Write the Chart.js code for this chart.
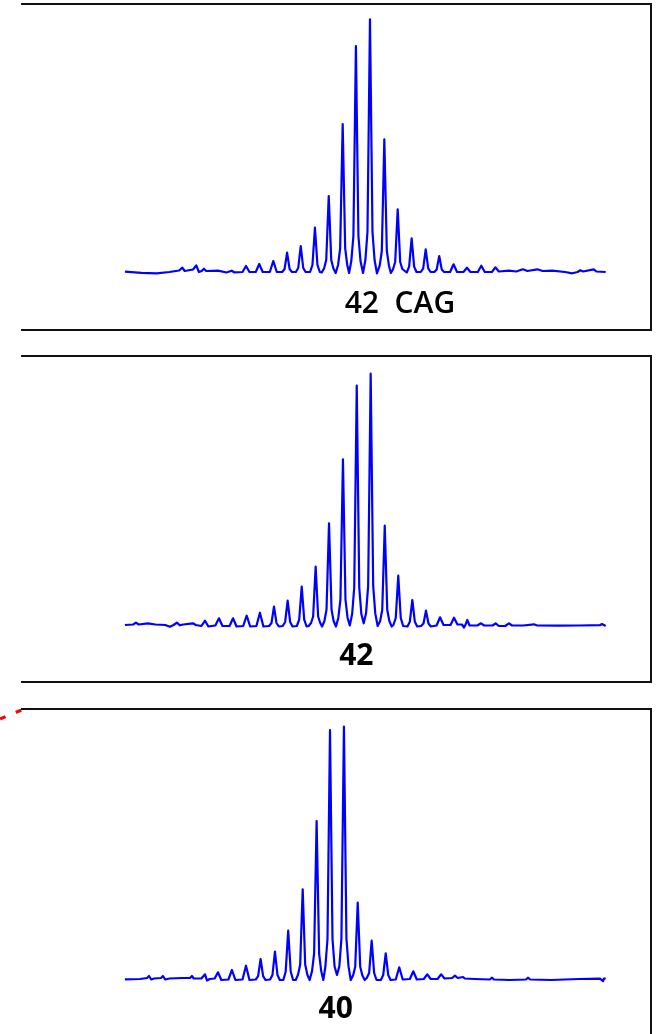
<!DOCTYPE html>
<html>
<head>
<meta charset="utf-8">
<script src="https://cdn.jsdelivr.net/npm/chart.js@4.4.1/dist/chart.umd.min.js"></script>
<style>
  html, body { margin: 0; padding: 0; background: #fff; width: 658px; height: 1034px; overflow: hidden; }
  .panel { position: absolute; left: 21px; width: 631px; height: 328px; box-sizing: border-box;
           border-top: 2px solid #111; border-right: 2px solid #111; border-bottom: 2px solid #111; }
  canvas { position: absolute; left: 21px; }
  svg { position: absolute; left: 0; top: 0; }
</style>
</head>
<body>
<div class="panel" style="top:3px"></div>
<div class="panel" style="top:355px"></div>
<div class="panel" style="top:708px"></div>
<svg width="40" height="740" viewBox="0 0 40 740"><path d="M0 719 Q11 714 22 710" fill="none" stroke="#f00" stroke-width="3" stroke-dasharray="6 11"/></svg>
<canvas id="c1" width="629" height="320" style="top:6px"></canvas>
<canvas id="c2" width="629" height="320" style="top:358px"></canvas>
<canvas id="c3" width="629" height="320" style="top:711px"></canvas>
<script>
// x = CAG repeat position, y = signal intensity (arbitrary units)
const labels = ["42  CAG", "42", "40"];
const labelPositions = [44.15, 41.02, 39.54];
const labelWeights = ["600", "bold", "bold"];
const xRange = [16.95, 62.10];
const yRange = [-8, 268];

const trace1 = [
  [24.41,2.3],[25.6,1.2],[26.69,0.7],[27.6,2],[28.3,3.5],[28.53,6.3],[28.7,3],[29.3,4.5],[29.53,8.7],[29.72,2],
  [29.92,3],[30.08,5.3],[30.25,3],[31.09,3.3],[31.7,1.5],[32.07,3.3],[32.25,1.7],[32.85,2],[33.1,8],[33.35,2],
  [33.8,2],[34.05,10],[34.3,2],[34.81,2],[35.06,13],[35.31,2],
  [35.7,2],[35.87,5],[36.05,21.3],[36.23,5],[36.4,2],
  [36.68,2],[36.85,6],[37.03,28],[37.21,6],[37.38,2],
  [37.7,2],[37.87,9],[38.05,46.3],[38.23,9],[38.4,2],
  [38.54,1.5],[38.71,5.8],[38.86,14],[39.04,78],[39.22,14],[39.37,5.8],
  [39.54,1],[39.71,9],[39.86,25.7],[40.04,150],[40.22,25.7],[40.37,9],
  [40.5,1],[40.66,13],[40.81,38],[40.99,228],[41.17,38],[41.32,13],
  [41.5,1],[41.67,14],[41.82,42],[42.0,254.7],[42.18,42],[42.33,14],
  [42.5,0.7],[42.7,8.6],[42.85,23],[43.03,134.7],[43.21,23],[43.36,8.6],
  [43.5,1],[43.66,5],[43.81,12],[43.99,64.7],[44.17,12],[44.32,5],
  [44.64,1.5],[44.81,7.4],[44.99,35.7],[45.17,7.4],[45.34,2],
  [45.65,2],[45.82,5.6],[46.0,24.7],[46.18,5.6],[46.35,2],
  [46.62,2],[46.79,4.6],[46.97,18],[47.15,4.6],[47.32,2],
  [47.75,2],[48.0,9.7],[48.25,2],[48.71,2],[48.96,6.3],[49.21,2],
  [49.74,2],[49.99,8.3],[50.24,2],[50.75,2],[51.0,6.7],[51.25,2.5],
  [51.98,3.3],[52.5,2.5],[52.98,4.7],[53.3,3],[54.01,4.7],[54.4,3],[55.07,3.3],[56,2],
  [56.52,0.7],[56.9,2],[57.1,3.7],[57.3,2.5],[58.06,4.7],[58.25,2.5],[58.92,2]
];

const trace2 = [
  [24.41,1],[25.0,1.5],[25.2,3.3],[25.4,1.5],[26.06,2.7],[26.6,1.5],[27.3,1],[27.64,-0.7],[27.9,1],[28.14,3.3],
  [28.36,0.7],[28.6,1.5],[29.29,2.7],[29.5,1],[29.9,0],[30.16,5.3],[30.4,-0.5],[30.9,0.5],[31.16,7.7],[31.41,0],
  [31.92,0],[32.17,7.7],[32.42,-0.5],[32.9,0],[33.15,10.3],[33.4,-0.5],[33.85,0],[34.1,13.3],[34.35,-0.5],
  [34.76,0],[34.93,3],[35.11,19.3],[35.29,3],[35.46,-0.5],
  [35.74,0],[35.91,4],[36.09,25.3],[36.27,4],[36.44,-0.5],
  [36.75,0],[36.92,6.3],[37.10,39.3],[37.28,6.3],[37.45,-0.5],
  [37.6,0],[37.77,3],[37.92,9.5],[38.10,59.3],[38.28,9.5],[38.43,3],
  [38.56,-0.5],[38.73,5],[38.88,16.4],[39.06,102.7],[39.24,16.4],[39.39,5],
  [39.56,-0.5],[39.73,8.3],[39.88,26.7],[40.06,166.7],[40.24,26.7],[40.39,8.3],
  [40.55,0.5],[40.72,12],[40.87,38.5],[41.05,240.3],[41.23,38.5],[41.38,12],
  [41.55,2.7],[41.72,13],[41.87,40.4],[42.05,252.3],[42.23,40.4],[42.38,12.6],
  [42.55,0],[42.73,5],[42.88,16],[43.06,100.3],[43.24,16],[43.39,5],
  [43.56,-0.5],[43.68,1],[43.85,8],[44.03,50.3],[44.21,8],[44.38,0],
  [44.69,-0.5],[44.86,4.2],[45.04,26],[45.22,4.2],[45.39,-0.5],
  [45.67,0],[45.84,2.5],[46.02,15.3],[46.2,2.5],[46.37,-0.5],
  [46.78,0.5],[47.03,8.7],[47.28,1],[47.78,1],[48.03,8.3],[48.28,1.5],[48.6,1.5],[48.75,-1.5],[48.85,1],
  [48.98,6],[49.15,0.5],[49.7,0.5],[49.97,2.7],[50.2,0.5],[50.8,0.5],[51.02,2.7],[51.25,0],[51.7,0],[51.98,2.7],
  [52.2,0.5],[53.0,0.5],[53.77,1.7],[54,0.5],[55.5,0.3],[57,0.5],[58.5,0.8],[58.65,2],[58.92,0]
];

const trace3 = [
  [24.41,-0.3],[25.5,0],[26.0,1],[26.14,3],[26.3,-0.5],[26.5,0.5],[27.0,1],[27.14,3],[27.3,-0.5],[27.6,0.5],
  [28.5,1],[29.1,1.2],[29.22,3],[29.35,0.5],[29.9,0.5],[30.16,4.7],[30.3,-1.5],[30.5,0],[30.85,0.5],[31.09,6.7],
  [31.33,-1],[31.84,-0.5],[32.09,9],[32.34,-1],[32.85,-0.5],[33.1,13.3],[33.35,-1],
  [33.8,-0.5],[33.97,2.8],[34.15,20],[34.33,2.8],[34.5,-1],
  [34.83,-0.5],[35.0,4],[35.18,27.3],[35.36,4],[35.53,-1],
  [35.78,-1],[35.95,7.5],[36.13,48.3],[36.31,7.5],[36.48,-1],
  [36.67,-1],[36.84,4.5],[36.99,14.4],[37.17,89.7],[37.35,14.4],[37.5,4.5],
  [37.67,-1],[37.84,7.9],[37.99,25.3],[38.17,158],[38.35,25.3],[38.5,7.9],
  [38.65,-1],[38.8,12.5],[38.95,40],[39.13,249],[39.31,40],[39.46,12.5],
  [39.63,4],[39.8,12.6],[39.95,40.4],[40.13,252.3],[40.31,40.4],[40.46,12.6],
  [40.62,-1],[40.79,3.8],[40.94,12.2],[41.12,76.3],[41.3,12.2],[41.45,3.8],
  [41.62,-1],[41.77,1],[41.94,6],[42.12,38.3],[42.3,6],[42.47,-1],
  [42.78,-1],[42.95,4],[43.13,25.7],[43.31,4],[43.48,-1],
  [43.85,-0.5],[44.1,11.7],[44.35,-0.5],[44.86,0],[45.11,7.7],[45.36,-0.5],
  [45.86,0],[46.11,4.7],[46.36,0],[46.85,0],[47.1,4.7],[47.35,0.5],[47.9,1],[48.1,3.3],[48.3,1],
  [48.68,2],[48.8,0.5],[49.5,0],[50.6,-0.5],[50.76,1.3],[50.9,-0.5],[52,-1],[53.2,-0.5],[53.34,1.3],[53.5,-0.5],
  [55,-1],[57,0],[58.5,0.3],[58.73,-2],[58.8,0.5],[58.92,0.7]
];

const traces = [trace1, trace2, trace3];

function makeChart(id, i) {
  new Chart(document.getElementById(id), {
    type: 'line',
    data: {
      datasets: [{
        data: traces[i].map(p => ({x: p[0], y: p[1]})),
        borderColor: '#0000ff',
        borderWidth: 2.2,
        borderJoinStyle: 'round',
        pointRadius: 0,
        tension: 0,
        fill: false
      }]
    },
    options: {
      responsive: false,
      animation: false,
      devicePixelRatio: 1,
      layout: { padding: 0 },
      plugins: { legend: { display: false }, tooltip: { enabled: false }, title: { display: false } },
      scales: {
        x: {
          type: 'linear', min: xRange[0], max: xRange[1],
          grid: { display: false, drawTicks: false },
          border: { display: false },
          afterBuildTicks: (axis) => { axis.ticks = [{ value: labelPositions[i] }]; },
          ticks: {
            autoSkip: false, maxRotation: 0, padding: 4, color: '#000',
            font: { family: "'Open Sans', sans-serif", size: 30, weight: labelWeights[i] },
            callback: () => labels[i]
          }
        },
        y: { type: 'linear', display: false, min: yRange[0], max: yRange[1] }
      }
    }
  });
}
makeChart('c1', 0);
makeChart('c2', 1);
makeChart('c3', 2);
</script>
</body>
</html>
